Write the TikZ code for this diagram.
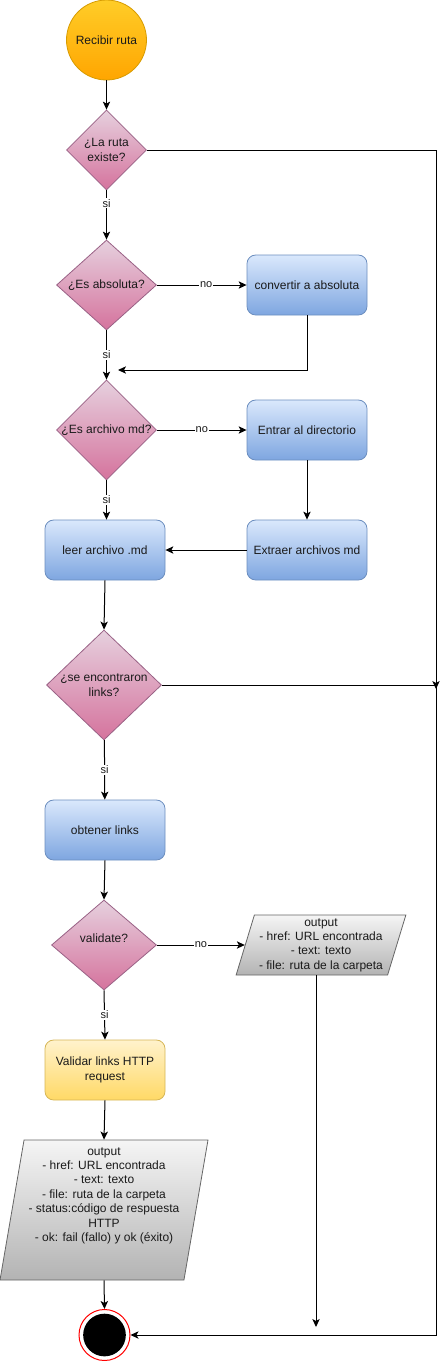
\documentclass[tikz,border=0pt]{standalone}
\usepackage{fontspec}
\setmainfont{Liberation Sans}
\usetikzlibrary{shapes.geometric,arrows.meta}
\definecolor{startT}{HTML}{FFCD28}
\definecolor{startB}{HTML}{FFA500}
\definecolor{startS}{HTML}{D79B00}
\definecolor{decT}{HTML}{E6D0DE}
\definecolor{decB}{HTML}{D5739D}
\definecolor{decS}{HTML}{996185}
\definecolor{procT}{HTML}{DAE8FC}
\definecolor{procB}{HTML}{7EA6E0}
\definecolor{procS}{HTML}{6C8EBF}
\definecolor{yelT}{HTML}{FFF2CC}
\definecolor{yelB}{HTML}{FFD966}
\definecolor{yelS}{HTML}{D6B656}
\definecolor{outT}{HTML}{F5F5F5}
\definecolor{outB}{HTML}{B3B3B3}
\definecolor{outS}{HTML}{666666}
\definecolor{txt}{HTML}{1A1A1A}
\begin{document}
\begin{tikzpicture}[x=0.75pt,y=-0.75pt,
  every node/.style={font=\fontsize{9}{10.8}\selectfont, text=txt},
  conn/.style={draw=black, line width=0.75pt, -{Stealth[length=6pt,width=5.5pt,inset=1.5pt]}},
  lbl/.style={fill=white, inner sep=0.8pt, font=\fontsize{8.25}{9}\selectfont},
  dec/.style={diamond, draw=decS, top color=decT, bottom color=decB, inner sep=0pt, line width=0.6pt},
  proc/.style={rectangle, rounded corners=6.5pt, draw=procS, top color=procT, bottom color=procB,
    minimum width=90pt, minimum height=45pt, inner sep=0pt, align=center, line width=0.6pt},
  yproc/.style={proc, draw=yelS, top color=yelT, bottom color=yelB},
  outbox/.style={trapezium, trapezium stretches=true, draw=outS, top color=outT, bottom color=outB,
    inner sep=0pt, line width=0.6pt},
  dtext/.style={align=center, inner sep=0pt}
]
\useasboundingbox (0,0) rectangle (446,1361);

% nodes
\node[circle, draw=startS, top color=startT, bottom color=startB, minimum size=60pt, inner sep=0pt, line width=0.6pt] (start) at (106.5,40) {Recibir ruta};
\node[dec, minimum width=60pt, minimum height=60pt,
  label={[name=d1t, dtext]center:¿La ruta\\existe?}] (d1) at (106.5,150) {};
\node[dec, minimum width=75pt, minimum height=67.5pt,
  label={[name=d2t, dtext]center:¿Es absoluta?}] (d2) at (106.5,285) {};
\node[proc] (conv) at (307,285) {convertir a absoluta};
\node[dec, minimum width=75pt, minimum height=75pt,
  label={[name=d3t, dtext]center:¿Es archivo md?}] (d3) at (106.5,430) {};
\node[proc] (entrar) at (307,430) {Entrar al directorio};
\node[proc] (extraer) at (307,550) {Extraer archivos md};
\node[proc] (leer) at (105,550) {leer archivo .md};
\node[dec, minimum width=86.25pt, minimum height=82.5pt,
  label={[name=d4t, dtext]center:¿se encontraron\\links?}] (d4) at (104,685) {};
\node[proc] (obtener) at (105,830) {obtener links};
\node[dec, minimum width=78.75pt, minimum height=67.5pt,
  label={[name=d5t, dtext, yshift=5pt]center:validate?}] (d5) at (104,945) {};
\node[outbox, minimum width=127.5pt, minimum height=45pt,
  trapezium left angle=72.4, trapezium right angle=107.6, align=center] (o1) at (321,945)
  {output\\- href: URL encontrada\\- text: texto\\- file: ruta de la carpeta};
\node[yproc] (validar) at (105,1070) {Validar links HTTP\\request};
\node[outbox, minimum width=156pt, minimum height=105pt,
  trapezium left angle=81.9, trapezium right angle=98.1,
  label={[name=o2t, dtext, yshift=10.7pt]center:output\\- href: URL encontrada\\- text: texto\\- file: ruta de la carpeta\\- status:código de respuesta\\HTTP\\- ok: fail (fallo) y ok (éxito)}] (o2) at (104,1210) {\phantom{x}};
\node[circle, draw=red, fill=white, minimum size=38.25pt, inner sep=0pt, line width=0.75pt] (end) at (104.5,1335) {};
\node[circle, fill=black, minimum size=32pt, inner sep=0pt] (endin) at (end.center) {};

% helper coordinates
\coordinate (rc1) at (436,150);
\coordinate (rc2) at (436,1335);
\coordinate (rc3) at (436,689);
\coordinate (j1) at (118,370);
\coordinate (c5) at (316,1327);

% connectors
\draw[conn] (start) -- (d1);
\draw[conn] (d1.east) -- (rc1) -- (rc2) -- (end.east);
\draw[conn] (d1) -- node[lbl, pos=0.26] {si} (d2);
\draw[conn] (d2) -- node[lbl, pos=0.55] {no} (conv);
\draw[conn] (conv.south) |- (j1);
\draw[conn] (d2) -- node[lbl] {si} (d3);
\draw[conn] (d3) -- node[lbl] {no} (entrar);
\draw[conn] (entrar) -- (extraer);
\draw[conn] (extraer) -- (leer);
\draw[conn] (d3.south) -- node[lbl] {si} (d3.south |- leer.north);
\draw[conn] (leer.south) -- (d4.north);
\draw[conn] (d4.east) -| (rc3);
\draw[conn] (d4) -- node[lbl] {si} (obtener);
\draw[conn] (obtener.south) -- (d5.north);
\draw[conn] (d5.east) -- node[lbl] {no} (o1.left side);
\draw[conn] (d5.south) -- node[lbl] {si} (validar.north);
\draw[conn] (validar.south) -- (o2.north);
\draw[conn] (o2.south) -- (end.north);
\draw[conn] (o1.south -| c5) -- (c5);
\end{tikzpicture}
\end{document}
